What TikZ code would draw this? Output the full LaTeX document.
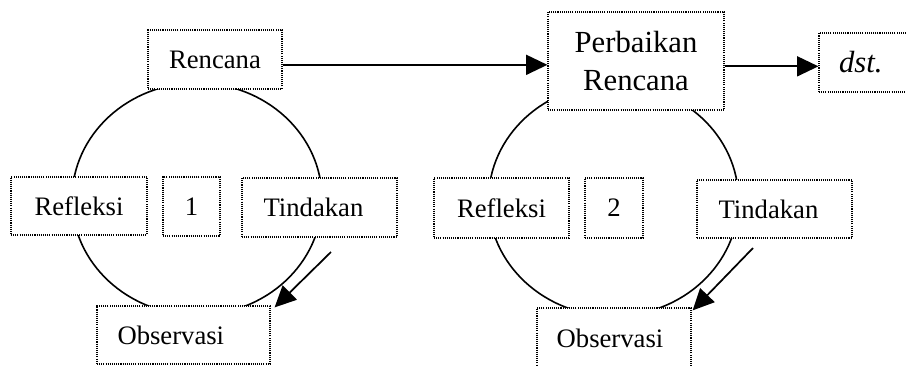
\documentclass[tikz,border=0pt]{standalone}
\usepackage{fontspec}
\setmainfont{Liberation Serif}
\usetikzlibrary{arrows.meta}
\tikzset{
  dbox/.style={draw=black, line width=0.9pt, dash pattern=on 0.8pt off 0.8pt,
    fill=white, rectangle, inner sep=0pt, font=\fontsize{20pt}{24pt}\selectfont},
  bigtext/.style={font=\fontsize{23pt}{28.5pt}\selectfont, align=center},
  cyc/.style={draw=black, line width=1.2pt},
  arr/.style={line width=1.3pt, -{Triangle[length=16pt,width=15pt]}}
}
\begin{document}
\begin{tikzpicture}[x=0.75pt,y=-0.75pt]
\useasboundingbox (0,0) rectangle (906,365);
\clip (0,0) rectangle (906,365);
% cycles
\draw[cyc] (197,199) ellipse [x radius=93.75pt, y radius=87pt];
\draw[cyc] (613.5,200) ellipse [x radius=93.75pt, y radius=87pt];
% left cycle boxes
\node[dbox, minimum width=100.5pt, minimum height=44.25pt] (ren1) at (215,59.5) {Rencana};
\node[dbox, minimum width=102pt, minimum height=43.5pt] (ref1) at (79,206) {Refleksi};
\node[dbox, minimum width=42.75pt, minimum height=44.25pt] (num1) at (191.5,206.5) {1};
\node[dbox, minimum width=116.25pt, minimum height=44.25pt] (tin1) at (319.5,207.5) {Tindakan\hspace*{9pt}};
\node[dbox, minimum width=129.75pt, minimum height=43.5pt] (obs1) at (183.5,335) {Observasi\hspace*{19pt}};
% right cycle boxes
\node[dbox, bigtext, minimum width=132pt, minimum height=73.5pt] (ren2) at (636,61) {Perbaikan\\Rencana};
\node[dbox, minimum width=69.75pt, minimum height=44.25pt, font=\fontsize{23pt}{27pt}\selectfont\itshape] (dst) at (865.5,62.5) {dst.\hspace*{7pt}};
\node[dbox, minimum width=101.25pt, minimum height=45pt] (ref2) at (501.5,208) {Refleksi};
\node[dbox, minimum width=43.5pt, minimum height=45pt] (num2) at (614,208) {2};
\node[dbox, minimum width=116.25pt, minimum height=43.5pt] (tin2) at (774.5,209) {Tindakan\hspace*{9pt}};
\node[dbox, minimum width=115.5pt, minimum height=45pt] (obs2) at (614,338) {Observasi\hspace*{6pt}};
% connectors
\draw[arr] ([yshift=-4pt]ren1.east) -- ([yshift=-4pt]ren1.east -| ren2.west);
\draw[arr] ([yshift=-4pt]ren2.east) -- ([yshift=-4pt]ren2.east -| dst.west);
\coordinate (s1) at (331,252);
\coordinate (s2) at (753,248);
\draw[arr] (s1) -- ([shift={(4,2)}]obs1.north east);
\draw[arr] (s2) -- ([shift={(1,3)}]obs2.north east);
\end{tikzpicture}
\end{document}
